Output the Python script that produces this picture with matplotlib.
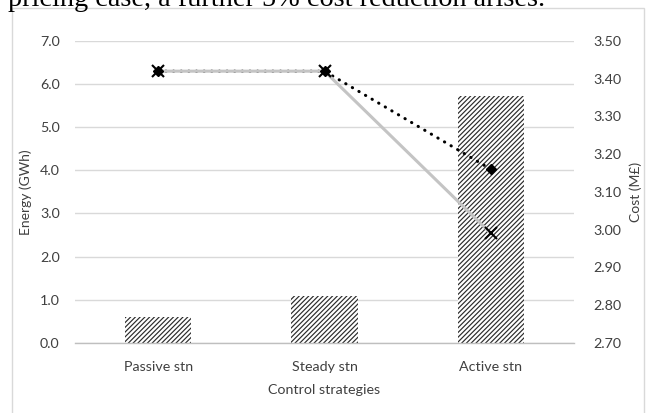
import matplotlib
matplotlib.use("Agg")
import matplotlib.pyplot as plt
from matplotlib.patches import Rectangle

# data
strategies = ["Passive stn", "Steady stn", "Active stn"]
energy_gwh = [0.60, 1.08, 5.72]
cost_flat = [3.42, 3.42, 2.99]      # grey solid line, x markers
cost_dynamic = [3.42, 3.42, 3.16]   # black dotted line, diamonds

plt.rcParams["font.family"] = ["Lato", "DejaVu Sans"]
plt.rcParams["hatch.linewidth"] = 0.85

fig = plt.figure(figsize=(6.51, 4.13), dpi=100)
fig.patch.set_facecolor("white")

# cut-off line of body text above the chart (cropped in the original too)
fig.text(8 / 651, 1 - 5.5 / 413, "pricing case, a further 5% cost reduction arises.",
         family=["Liberation Serif", "DejaVu Serif"], fontsize=20.3,
         ha="left", va="baseline", color="black")

# chart frame
fig.patches.append(Rectangle((12 / 651, -0.05), (644 - 12) / 651, 1 - 8 / 413 + 0.05,
                             transform=fig.transFigure, fill=False,
                             edgecolor="#d9d9d9", linewidth=1.0))

ax = fig.add_axes([75 / 651, 1 - 342.7 / 413, (574 - 75) / 651, (342.7 - 41) / 413])
x = list(range(len(strategies)))

ax.bar(x, energy_gwh, width=0.4, color="white", edgecolor="#2a2a2a",
       hatch="///////", linewidth=0, zorder=2)
ax.set_xlim(-0.5, 2.5)
ax.set_ylim(0, 7)
ax.set_yticks([0, 1, 2, 3, 4, 5, 6, 7])
ax.set_yticklabels([f"{v:.1f}" for v in range(8)])
ax.set_xticks(x)
ax.set_xticklabels(strategies)
ax.grid(axis="y", color="#d9d9d9", linewidth=1.0, zorder=0)
ax.set_axisbelow(True)
for s in ["top", "left", "right"]:
    ax.spines[s].set_visible(False)
ax.spines["bottom"].set_color("#bfbfbf")
ax.spines["bottom"].set_linewidth(1.0)
ax.tick_params(axis="both", length=0, labelsize=10.3, colors="#404040")
ax.tick_params(axis="y", pad=11)
ax.tick_params(axis="x", pad=13)
ax.set_ylabel("Energy (GWh)", fontsize=10, color="#404040", labelpad=6)
ax.set_xlabel("Control strategies", fontsize=10.3, color="#404040", labelpad=8)

ax2 = ax.twinx()
cost_ticks = [2.7, 2.8, 2.9, 3.0, 3.1, 3.2, 3.3, 3.4, 3.5]
ax2.set_ylim(2.70, 3.50)
ax2.set_yticks(cost_ticks)
ax2.set_yticklabels([f"{v:.2f}" for v in cost_ticks])
for s in ["top", "left", "right", "bottom"]:
    ax2.spines[s].set_visible(False)
ax2.tick_params(axis="y", length=0, labelsize=10.3, colors="#404040", pad=14)
ax2.set_ylabel("Cost (M£)", fontsize=10, color="#404040", labelpad=6)

ax2.plot(x, cost_dynamic, color="black", linewidth=2.2,
         linestyle=(0, (0.1, 2.4)), dash_capstyle="round", zorder=2)
ax2.plot(x, cost_flat, color="#c4c4c4", linewidth=2.2, zorder=3)
ax2.plot(x, cost_dynamic, linestyle="none", marker="D", markersize=5.5,
         color="black", zorder=4)
ax2.plot(x, cost_flat, linestyle="none", marker="x", markersize=8,
         markeredgewidth=1.5, color="black", zorder=5)

fig.savefig("out.png", dpi=100)
